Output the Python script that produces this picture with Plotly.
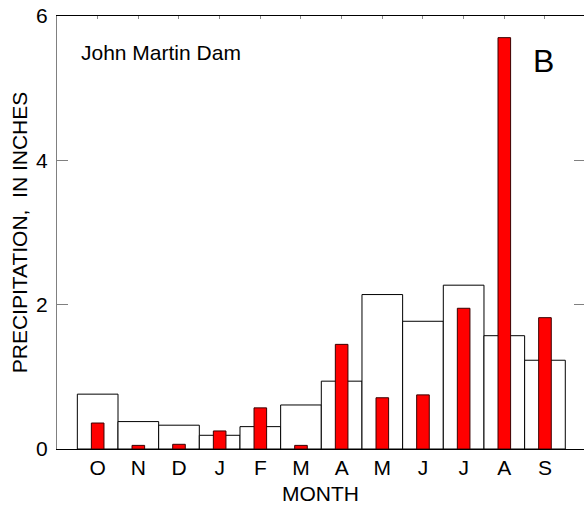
import plotly.graph_objects as go

months = ["O", "N", "D", "J", "F", "M", "A", "M", "J", "J", "A", "S"]
normal_precip = [0.76, 0.38, 0.33, 0.19, 0.31, 0.61, 0.94, 2.14, 1.77, 2.27, 1.57, 1.23]
observed_precip = [0.36, 0.05, 0.065, 0.25, 0.57, 0.05, 1.45, 0.71, 0.75, 1.95, 5.70, 1.82]
y_ticks = [0, 2, 4, 6]

xpos = list(range(len(months)))
FONT = "Arial, Liberation Sans, sans-serif"
FS = 21

fig = go.Figure()
fig.add_trace(go.Bar(
    x=xpos, y=normal_precip, width=1.0,
    marker=dict(color="white", line=dict(color="black", width=1)),
    showlegend=False, hoverinfo="skip"))
fig.add_trace(go.Bar(
    x=xpos, y=observed_precip, width=0.31,
    marker=dict(color="#ff0000", line=dict(color="#3a0000", width=1)),
    showlegend=False, hoverinfo="skip"))
fig.add_trace(go.Scatter(x=[], y=[], yaxis="y2", showlegend=False))

fig.update_layout(
    width=584, height=510,
    margin=dict(l=57, r=0, t=16, b=61),
    paper_bgcolor="white", plot_bgcolor="white",
    barmode="overlay",
    font=dict(family=FONT, size=FS, color="black"),
    xaxis=dict(
        range=[-1, 11.96], tickmode="array", tickvals=xpos, ticktext=months,
        showline=True, linecolor="black", linewidth=1, mirror="ticks",
        ticks="inside", ticklen=3, tickcolor="#888888",
        showgrid=False, zeroline=False, layer="below traces", automargin=False,
        tickfont=dict(size=FS), ticklabelstandoff=0,
        title=dict(text="MONTH", font=dict(size=FS), standoff=8),
    ),
    yaxis=dict(
        range=[0, 6], tickmode="array", tickvals=y_ticks,
        showline=True, linecolor="#808080", linewidth=1,
        ticks="inside", ticklen=11, tickcolor="#808080",
        showgrid=False, zeroline=False, layer="below traces", automargin=False,
        tickfont=dict(size=FS), ticklabelstandoff=4,
        title=dict(text="PRECIPITATION,  IN INCHES", font=dict(size=FS), standoff=2),
    ),
    yaxis2=dict(
        range=[0, 6], overlaying="y", side="right", tickmode="array", tickvals=y_ticks,
        showticklabels=False, showline=False, ticks="inside", ticklen=10,
        tickcolor="#808080", showgrid=False, zeroline=False, automargin=False,
    ),
    annotations=[
        dict(text="John Martin Dam", xref="paper", yref="paper",
             x=(79 - 57) / 527, y=(449 - 52) / 433, xanchor="left", yanchor="middle",
             showarrow=False, font=dict(size=FS)),
        dict(text="B", xref="paper", yref="paper",
             x=(543.5 - 57) / 527, y=(449 - 60.5) / 433, xanchor="center", yanchor="middle",
             showarrow=False, font=dict(size=32)),
    ],
)

fig.write_html("out.html", config={"displayModeBar": False},
               post_script="document.body.style.margin='0px';document.body.style.padding='0px';")
